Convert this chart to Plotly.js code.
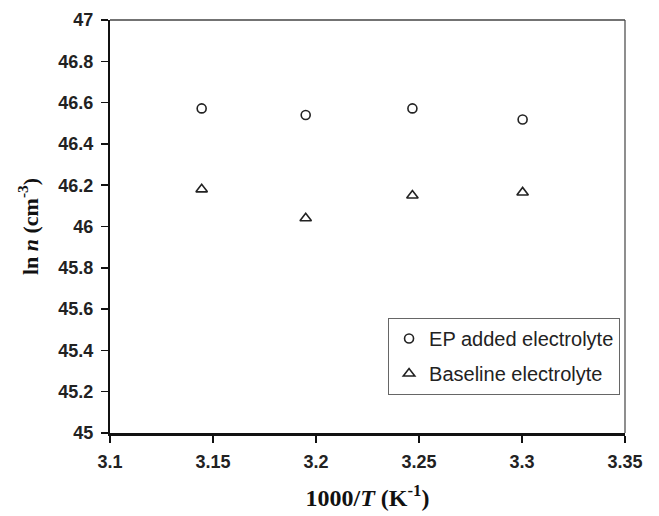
<!DOCTYPE html>
<html>
<head>
<meta charset="utf-8">
<script src="https://cdn.plot.ly/plotly-3.0.1.min.js"></script>
<style>html,body{margin:0;padding:0;background:#fff;}#chart{width:659px;height:516px;}</style>
</head>
<body>
<div id="chart"></div>
<script>
const xValues = [3.1445, 3.195, 3.2468, 3.3003];
const epAdded = [46.572, 46.540, 46.572, 46.518];
const baseline = [46.180, 46.040, 46.150, 46.165];
const seriesNames = ["EP added electrolyte", "Baseline electrolyte"];
const xTicks = [3.1, 3.15, 3.2, 3.25, 3.3, 3.35];
const xTickText = ["3.1", "3.15", "3.2", "3.25", "3.3", "3.35"];
const yTicks = [45, 45.2, 45.4, 45.6, 45.8, 46, 46.2, 46.4, 46.6, 46.8, 47];
const yTickText = ["45", "45.2", "45.4", "45.6", "45.8", "46", "46.2", "46.4", "46.6", "46.8", "47"];

const traces = [
  {x: xValues, y: epAdded, name: seriesNames[0], type: 'scatter', mode: 'markers', legendgroup: 'a',
   marker: {symbol: 'circle-open', size: 9, color: '#222', line: {width: 1.6, color: '#222'}}},
  {x: xValues, y: baseline, name: seriesNames[1], type: 'scatter', mode: 'markers', legendgroup: 'b',
   marker: {symbol: 'triangle-up-open', size: 10, color: '#222', line: {width: 1.6, color: '#222'}}}
];

const tickFont = {family: 'Liberation Sans, Arial, sans-serif', size: 18, color: '#222'};
const bold = s => '<b>' + s + '</b>';

const layout = {
  width: 659, height: 516,
  margin: {l: 110, r: 34, t: 20, b: 83},
  paper_bgcolor: '#fff', plot_bgcolor: '#fff',
  showlegend: true,
  legend: {
    x: 0.99, xanchor: 'right', y: 0.279, yanchor: 'top',
    bgcolor: '#fff', bordercolor: '#666', borderwidth: 1.2,
    font: {family: 'Liberation Sans, Arial, sans-serif', size: 20, color: '#222'},
    traceorder: 'grouped', tracegroupgap: 6, itemwidth: 30
  },
  xaxis: {
    range: [3.1, 3.35], tickmode: 'array', tickvals: xTicks, ticktext: xTickText.map(bold),
    showgrid: false, zeroline: false, showline: true, linecolor: '#111', linewidth: 2.5,
    ticks: 'outside', ticklen: 7, tickwidth: 1.5, tickcolor: '#111',
    tickfont: tickFont, ticklabelstandoff: 4,
    title: {text: '<b>1000/<i>T</i> (K<sup>-1</sup>)</b>', font: {family: 'Liberation Serif, Times New Roman, serif', size: 24, color: '#111'}, standoff: 18}
  },
  yaxis: {
    range: [45, 47], tickmode: 'array', tickvals: yTicks, ticktext: yTickText.map(bold),
    showgrid: false, zeroline: false, showline: true, linecolor: '#111', linewidth: 2,
    ticks: 'outside', ticklen: 7, tickwidth: 1.5, tickcolor: '#111',
    tickfont: tickFont, ticklabelstandoff: 4,
    title: {text: '<b>ln <i>n</i> (cm<sup>-3</sup>)</b>', font: {family: 'Liberation Serif, Times New Roman, serif', size: 22, color: '#111'}, standoff: 14}
  },
  shapes: [
    {type: 'line', xref: 'paper', yref: 'paper', x0: 0, x1: 1, y0: 1, y1: 1, line: {color: '#444', width: 1.5}},
    {type: 'line', xref: 'paper', yref: 'paper', x0: 1, x1: 1, y0: 0, y1: 1, line: {color: '#444', width: 1.2}}
  ]
};

Plotly.newPlot('chart', traces, layout, {displayModeBar: false, staticPlot: true});
</script>
</body>
</html>
